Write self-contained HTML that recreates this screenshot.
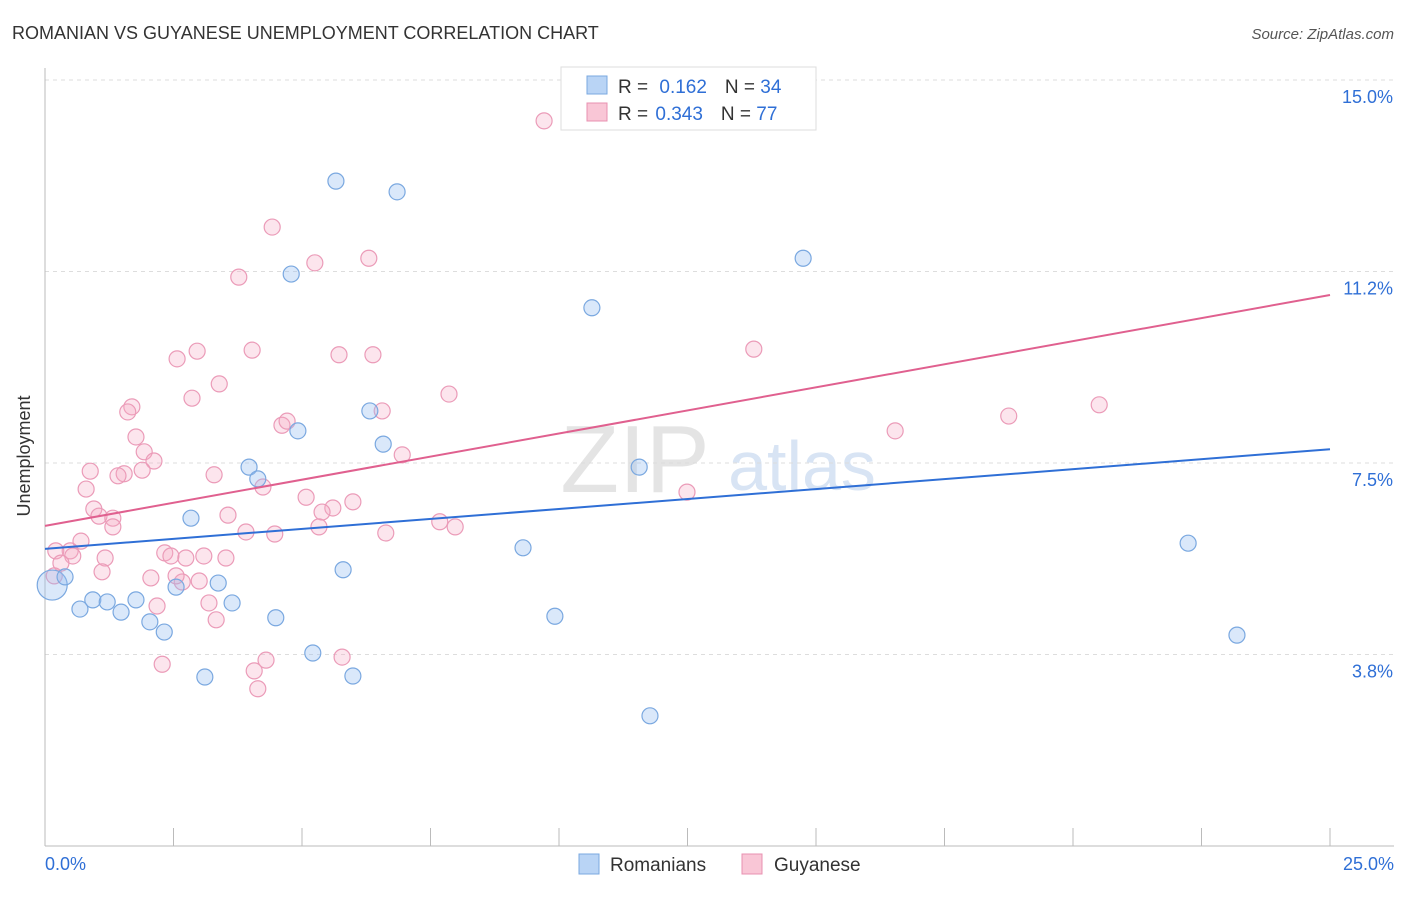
<!DOCTYPE html>
<html><head><meta charset="utf-8"><style>
body{margin:0;background:#fff;font-family:"Liberation Sans",sans-serif}
svg text{font-family:"Liberation Sans",sans-serif}
</style></head><body>
<svg id="c" width="1406" height="892" xmlns="http://www.w3.org/2000/svg">
<text x="12" y="39" font-size="18" fill="#333">ROMANIAN VS GUYANESE UNEMPLOYMENT CORRELATION CHART</text>
<text x="1394" y="39" font-size="15" fill="#555" text-anchor="end" font-style="italic">Source: ZipAtlas.com</text>
<text x="30" y="456" font-size="18" fill="#333" text-anchor="middle" transform="rotate(-90 30 456)">Unemployment</text>
<text x="635" y="492" font-size="96" fill="#e4e4e4" font-family="Liberation Serif" text-anchor="middle">ZIP</text>
<text x="802" y="490" font-size="70" fill="#d8e4f4" text-anchor="middle">atlas</text>
<g id="grid"></g><g id="axes"></g><g id="pts"></g><g id="lines"></g>
<g>
<rect x="561" y="67" width="255" height="63" fill="#fff" stroke="#ddd"/>
<rect x="587" y="76" width="20" height="18" fill="#b9d4f5" stroke="#7aa8e0"/>
<rect x="587" y="103" width="20" height="18" fill="#f9c6d6" stroke="#e890b0"/>
<text x="618" y="93" font-size="19" fill="#333">R = <tspan fill="#2f6fd6" dx="6">0.162</tspan><tspan fill="#333" dx="18">N = </tspan><tspan fill="#2f6fd6">34</tspan></text>
<text x="618" y="120" font-size="19" fill="#333">R = <tspan fill="#2f6fd6" dx="2">0.343</tspan><tspan fill="#333" dx="18">N = </tspan><tspan fill="#2f6fd6">77</tspan></text>
</g>
<g>
<rect x="579" y="854" width="20" height="20" fill="#b9d4f5" stroke="#7aa8e0"/>
<text x="610" y="871" font-size="19" fill="#333">Romanians</text>
<rect x="742" y="854" width="20" height="20" fill="#f9c6d6" stroke="#e890b0"/>
<text x="774" y="871" font-size="19" fill="#333">Guyanese</text>
</g>
</svg>
<script>
const yTicks=[15.0,11.25,7.5,3.75];
const yTickLabels=["15.0%","11.2%","7.5%","3.8%"];
const xTickLabels=["0.0%","25.0%"];
const romX=[0.14,0.39,0.68,0.93,1.21,1.48,1.77,2.04,2.32,2.55,2.84,3.11,3.37,3.64,3.97,4.14,4.49,4.79,4.92,5.21,5.66,5.80,5.99,6.32,6.58,6.85,9.30,9.92,10.64,11.56,11.77,14.75,22.24,23.19];
const romY=[5.11,5.27,4.64,4.82,4.78,4.58,4.82,4.39,4.19,5.07,6.42,3.31,5.15,4.76,7.42,7.19,4.47,11.20,8.13,3.78,13.02,5.41,3.33,8.52,7.87,12.81,5.84,4.50,10.54,7.42,2.55,11.51,5.93,4.13];
const guyX=[9.71,4.42,3.77,5.25,6.30,2.96,2.57,4.03,5.72,6.38,3.39,2.86,7.86,13.79,1.69,1.61,4.61,4.71,6.56,1.77,1.93,2.12,0.88,1.89,1.54,1.42,3.29,4.24,5.08,5.99,5.60,5.39,5.33,0.95,1.05,1.32,1.32,0.80,3.56,3.91,4.47,6.63,7.68,7.98,6.95,12.49,16.54,18.75,20.51,0.70,0.49,0.54,0.21,0.31,0.18,1.17,1.11,2.33,2.45,2.74,3.09,3.52,3.00,2.67,2.55,2.06,2.18,3.19,3.33,2.28,4.07,4.30,4.14,5.78];
const guyY=[14.20,12.12,11.14,11.42,11.51,9.69,9.54,9.71,9.62,9.62,9.05,8.77,8.85,9.73,8.60,8.50,8.24,8.32,8.52,8.01,7.72,7.54,7.34,7.36,7.29,7.25,7.27,7.03,6.83,6.74,6.62,6.54,6.25,6.60,6.46,6.42,6.25,6.99,6.48,6.15,6.11,6.13,6.35,6.25,7.66,6.93,8.13,8.42,8.64,5.97,5.78,5.68,5.78,5.54,5.29,5.64,5.37,5.74,5.68,5.64,5.68,5.64,5.19,5.17,5.29,5.25,4.70,4.76,4.43,3.56,3.43,3.64,3.08,3.70];
const romTrend=[5.82,7.77];
const guyTrend=[6.27,10.79];
const NS="http://www.w3.org/2000/svg";
const X=v=>45+v*51.4, Y=v=>80+(15-v)*51.07;
function mk(t,a,p){const e=document.createElementNS(NS,t);for(const k in a)e.setAttribute(k,a[k]);document.getElementById(p).appendChild(e);return e;}
yTicks.forEach((t,i)=>{
 const g=mk('line',{x1:45,x2:1394,y1:Y(t),y2:Y(t),stroke:'#ddd','stroke-dasharray':'4,4'},'grid');
 
 
 const l=mk('text',{x:1393,y:Y(t)+23,'font-size':18,fill:'#2f6fd6','text-anchor':'end'},'grid');l.textContent=yTickLabels[i];
 
 
});
const ax=mk('line',{x1:45,x2:1394,y1:846,y2:846,stroke:'#bbb'},'axes');


const ay=mk('line',{x1:45,x2:45,y1:68,y2:846,stroke:'#bbb'},'axes');


for(let i=0;i<=10;i++){const t=mk('line',{x1:X(i*2.5),x2:X(i*2.5),y1:828,y2:846,stroke:'#bbb'},'axes');
 
 }
[[0,'start',45],[25,'end',1394]].forEach((d,i)=>{const t=mk('text',{x:d[2],y:870,'font-size':18,fill:'#2f6fd6','text-anchor':d[1]},'axes');t.textContent=xTickLabels[i];
 
 });
guyX.forEach((x,i)=>{const c=mk('circle',{cx:X(x),cy:Y(guyY[i]),r:8,fill:'rgba(246,170,196,0.3)',stroke:'#eb9bb8','stroke-width':1.2},'pts');
 
 });
romX.forEach((x,i)=>{const c=mk('circle',{cx:X(x),cy:Y(romY[i]),r:i==0?15:8,fill:'rgba(150,190,240,0.35)',stroke:'#7aa8e0','stroke-width':1.2},'pts');
 
 });
const l1=mk('line',{x1:X(0),y1:Y(romTrend[0]),x2:X(25),y2:Y(romTrend[1]),stroke:'#2f6fd6','stroke-width':2},'lines');


const l2=mk('line',{x1:X(0),y1:Y(guyTrend[0]),x2:X(25),y2:Y(guyTrend[1]),stroke:'#e0608f','stroke-width':2},'lines');


</script>
</body></html>
